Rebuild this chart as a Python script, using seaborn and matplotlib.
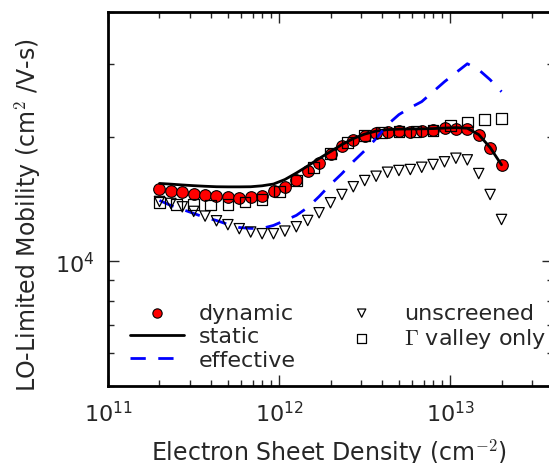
import numpy as np
import pandas as pd
import seaborn as sns
import matplotlib.pyplot as plt
from matplotlib.ticker import NullFormatter

# electron sheet density (cm^-2), fine grid used for dynamic / static / effective / unscreened
density = [2.000e11, 2.332e11, 2.719e11, 3.170e11, 3.696e11, 4.309e11, 5.024e11, 5.858e11,
           6.830e11, 7.963e11, 9.284e11, 1.0824e12, 1.2620e12, 1.4714e12, 1.7155e12, 2.000e12,
           2.332e12, 2.719e12, 3.170e12, 3.696e12, 4.309e12, 5.024e12, 5.858e12, 6.830e12,
           7.963e12, 9.284e12, 1.0824e13, 1.2620e13, 1.4714e13, 1.7155e13, 2.000e13]

dynamic = [1.497e4, 1.480e4, 1.469e4, 1.456e4, 1.445e4, 1.437e4, 1.427e4, 1.424e4,
           1.427e4, 1.442e4, 1.475e4, 1.514e4, 1.570e4, 1.648e4, 1.726e4, 1.820e4,
           1.904e4, 1.968e4, 2.012e4, 2.042e4, 2.057e4, 2.061e4, 2.057e4, 2.061e4,
           2.072e4, 2.103e4, 2.084e4, 2.088e4, 2.016e4, 1.883e4, 1.710e4]

static = [1.542e4, 1.536e4, 1.529e4, 1.523e4, 1.518e4, 1.514e4, 1.513e4, 1.513e4,
          1.514e4, 1.522e4, 1.537e4, 1.576e4, 1.634e4, 1.699e4, 1.771e4, 1.841e4,
          1.914e4, 1.979e4, 2.029e4, 2.063e4, 2.080e4, 2.086e4, 2.088e4, 2.089e4,
          2.092e4, 2.098e4, 2.103e4, 2.096e4, 2.023e4, 1.883e4, 1.710e4]

effective = [1.403e4, 1.364e4, 1.335e4, 1.305e4, 1.276e4, 1.255e4, 1.228e4, 1.207e4,
             1.201e4, 1.201e4, 1.221e4, 1.255e4, 1.291e4, 1.349e4, 1.434e4, 1.533e4,
             1.629e4, 1.742e4, 1.851e4, 1.979e4, 2.138e4, 2.261e4, 2.350e4, 2.430e4,
             2.568e4, 2.715e4, 2.854e4, 3.000e4, 2.902e4, 2.745e4, 2.568e4]

unscreened = [1.395e4, 1.380e4, 1.354e4, 1.320e4, 1.286e4, 1.253e4, 1.226e4, 1.199e4,
              1.177e4, 1.166e4, 1.166e4, 1.183e4, 1.212e4, 1.255e4, 1.310e4, 1.385e4,
              1.450e4, 1.514e4, 1.567e4, 1.605e4, 1.641e4, 1.657e4, 1.666e4, 1.687e4,
              1.713e4, 1.739e4, 1.774e4, 1.758e4, 1.629e4, 1.450e4, 1.262e4]

# coarser grid for the Gamma-valley-only calculation
density_g = [2.000e11, 2.519e11, 3.170e11, 3.991e11, 5.024e11, 6.325e11, 7.962e11, 1.0024e12,
             1.262e12, 1.589e12, 2.000e12, 2.518e12, 3.170e12, 3.991e12, 5.024e12, 6.325e12,
             7.962e12, 1.0024e13, 1.262e13, 1.589e13, 2.000e13]
gamma_only = [1.385e4, 1.372e4, 1.372e4, 1.367e4, 1.372e4, 1.390e4, 1.411e4, 1.477e4,
              1.570e4, 1.687e4, 1.818e4, 1.935e4, 2.012e4, 2.049e4, 2.061e4, 2.061e4,
              2.072e4, 2.127e4, 2.171e4, 2.199e4, 2.211e4]

df = pd.DataFrame({'n': density, 'dynamic': dynamic, 'static': static,
                   'effective': effective, 'unscreened': unscreened})
dg = pd.DataFrame({'n': density_g, 'gamma': gamma_only})

sns.set_style("ticks")
plt.rcParams['font.family'] = ['DejaVu Sans']
plt.rcParams['mathtext.fontset'] = 'cm'
fs = 16

fig = plt.figure(figsize=(5.49, 4.64), dpi=100)
ax = fig.add_axes([108 / 549, 77 / 464, 445 / 549, 374 / 464])

sns.scatterplot(data=df, x='n', y='dynamic', marker='o', s=70, color='red',
                edgecolor='black', linewidth=0.8, label='dynamic', ax=ax, zorder=2)
sns.lineplot(data=df, x='n', y='static', color='black', lw=2, label='static', ax=ax, zorder=3)
sns.lineplot(data=df, x='n', y='effective', color='blue', lw=2,
             label='effective', ax=ax, zorder=3)
ax.lines[-1].set_dashes((5.5, 4.5))
sns.scatterplot(data=df, x='n', y='unscreened', marker='v', s=55, color='black',
                facecolor='none', edgecolor='black', linewidth=0.9, label='unscreened', ax=ax, zorder=4)
sns.scatterplot(data=dg, x='n', y='gamma', marker='s', s=60, color='black',
                facecolor='none', edgecolor='black', linewidth=0.9,
                label=r'$\Gamma$ valley only', ax=ax, zorder=4)

ax.set_xscale('log')
ax.set_yscale('log')
ax.set_xlim(1e11, 4e13)
ax.set_ylim(5e3, 4e4)
ax.set_yticks([1e4])
ax.yaxis.set_minor_formatter(NullFormatter())
ax.set_xlabel(r'Electron Sheet Density (cm$^{-2}$)', fontsize=17)
ax.set_ylabel(r'LO-Limited Mobility (cm$^2$ /V-s)', fontsize=17)
ax.xaxis.set_label_coords(0.497, -0.135)
ax.yaxis.set_label_coords(-0.145, 0.46)
ax.tick_params(which='both', direction='in', top=True, right=True, labelsize=fs, pad=10, width=1)
ax.tick_params(which='major', length=8)
ax.tick_params(which='minor', length=4)
for s in ax.spines.values():
    s.set_linewidth(2)
    s.set_color('black')

handles, labels = ax.get_legend_handles_labels()
ax.legend(handles, labels, ncol=2, frameon=False, fontsize=fs, loc='lower left',
          bbox_to_anchor=(0.03, 0.02), handlelength=2.4, handletextpad=0.7,
          columnspacing=1.75, labelspacing=0.15, markerscale=0.8, borderaxespad=0)

fig.savefig('out.png', dpi=100)
